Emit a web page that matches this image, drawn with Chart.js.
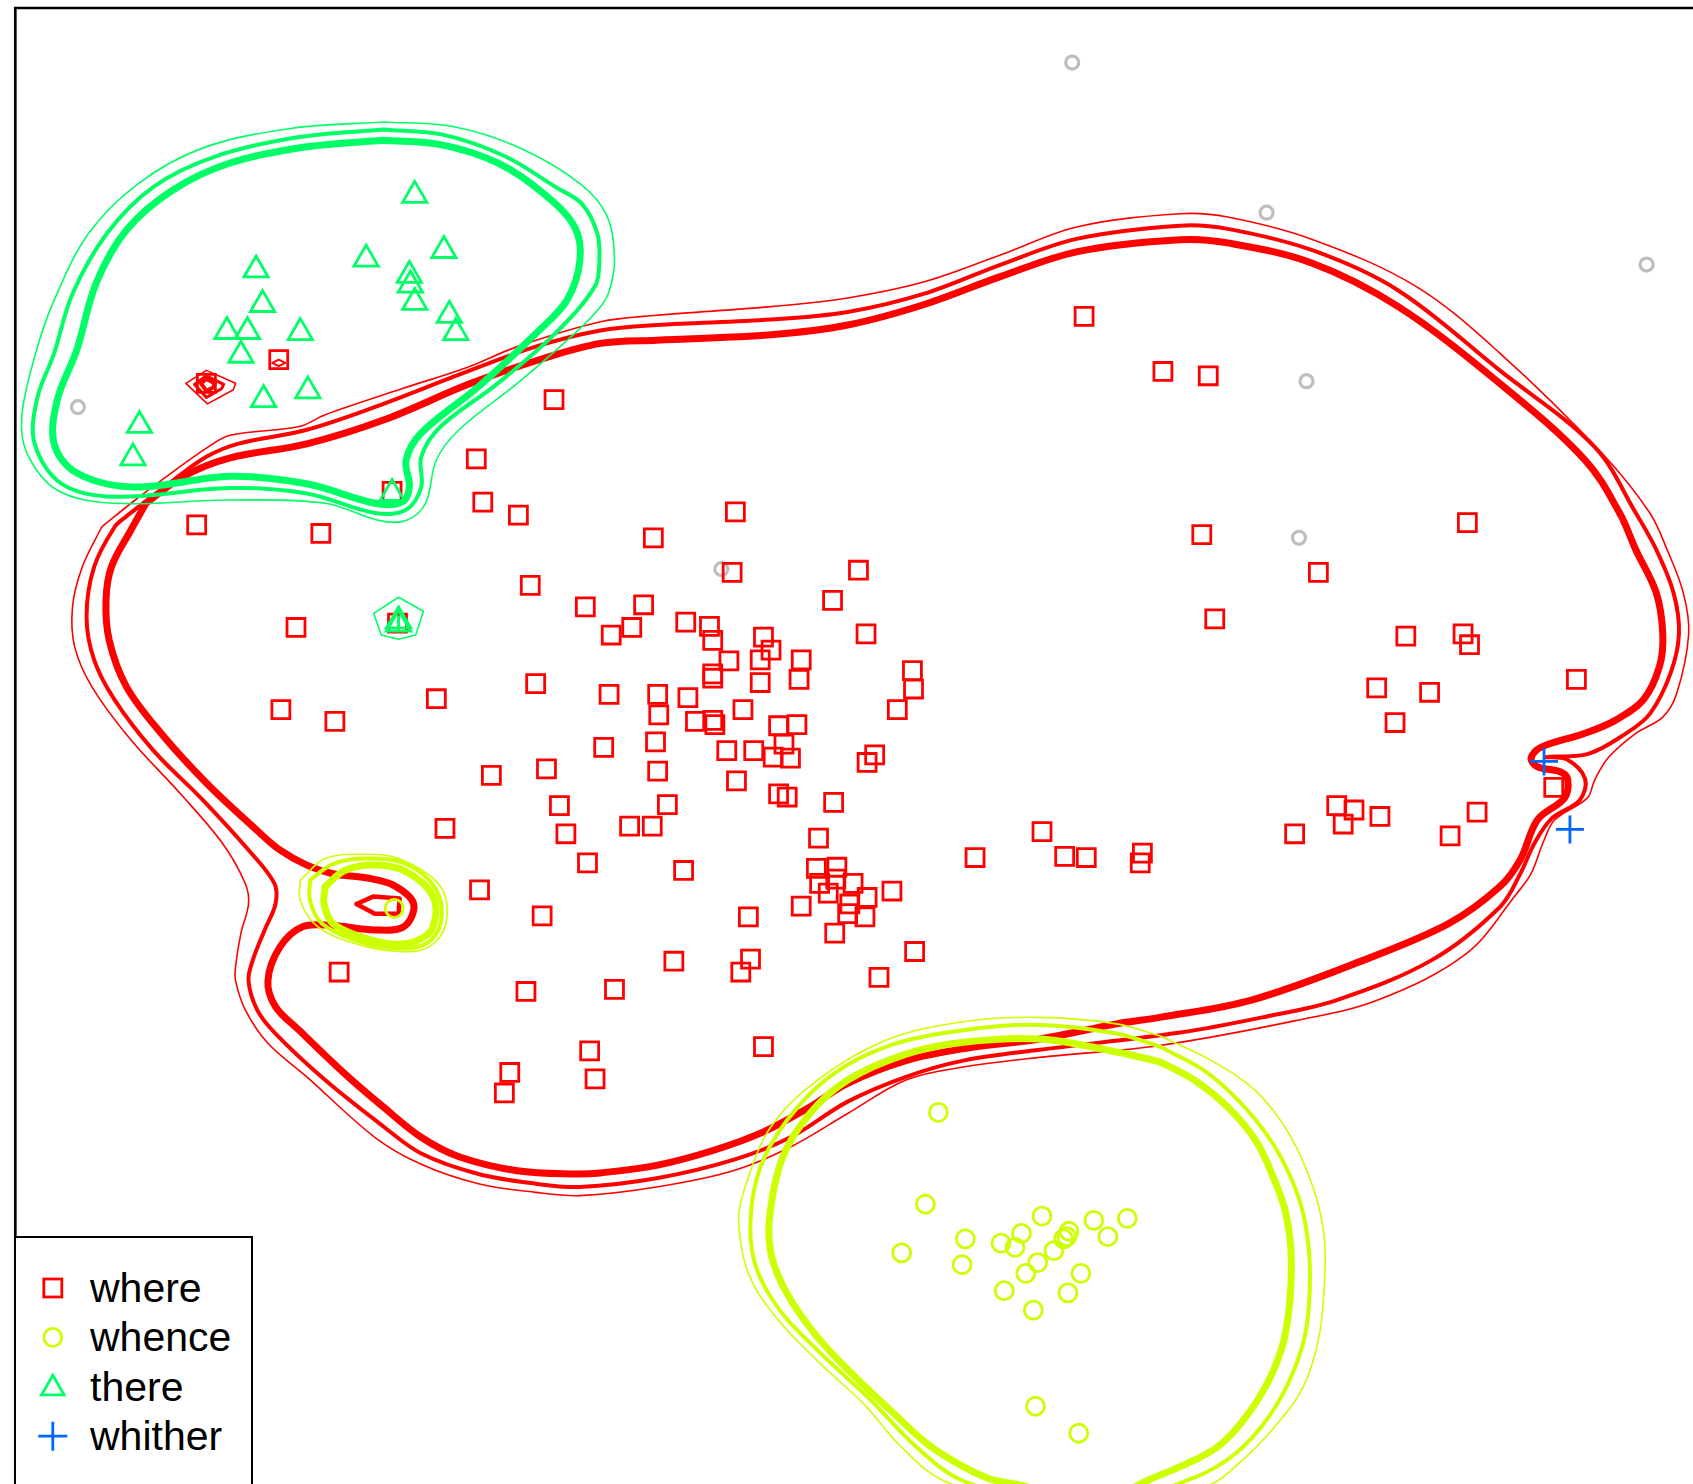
<!DOCTYPE html>
<html>
<head>
<meta charset="utf-8">
<script src="https://cdn.jsdelivr.net/npm/chart.js@4.4.1/dist/chart.umd.min.js"></script>
<style>
  html, body { margin: 0; padding: 0; background: #fff; overflow: hidden; }
  #wrap { position: relative; width: 1693px; height: 1484px; }
  #c { position: absolute; left: 0; top: 0; }
  #legend { position: absolute; left: 14px; top: 1236px; width: 239px; height: 300px;
            box-sizing: border-box; border: 2.7px solid #000; background: #fff; }
  #keys { position: absolute; left: 0; top: 0; }
  .lab { position: absolute; left: 90px; font-family: "Liberation Sans", Arial, sans-serif;
         font-size: 41px; line-height: 41px; color: #000; white-space: nowrap; }
</style>
</head>
<body>
<div id="wrap">
  <canvas id="c" width="1693" height="1484"></canvas>
  <div id="legend"></div>
  <svg id="keys" width="260" height="1484" xmlns="http://www.w3.org/2000/svg"></svg>
</div>
<script>
// ---- observations (x, y) per group ----
const where = [[990,1081],[1063,1030],[1105,1026],[499,1004],[427,949],[433,909],[466,897],[168,888],[283,880],[591,876],[667,900],[664,844],[781,846],[757,818],[477,832],[528,812],[582,814],[552,786],[571,793],[621,798],[643,794],[646,781],[693,784],[700,772],[690,763],[661,762],[728,763],[788,787],[260,793],[354,797],[831,753],[832,736],[817,717],[646,750],[646,746],[690,742],[726,745],[246,717],[296,706],[390,727],[482,741],[550,731],[595,731],[596,712],[623,728],[630,706],[646,707],[648,703],[674,717],[707,702],[724,703],[712,685],[702,673],[718,672],[684,679],[659,679],[545,682],[593,687],[595,660],[441,656],[492,662],[668,651],[796,675],[789,668],[707,639],[715,636],[758,631],[604,629],[504,628],[398,607],[510,602],[569,609],[590,609],[744,598],[530,575],[619,568],[742,570],[761,571],[760,560],[745,556],[753,547],[776,556],[789,543],[773,537],[771,528],[787,525],[812,549],[728,535],[759,510],[430,550],[488,526],[679,525],[300,474],[610,484],[681,486],[672,474],[833,493],[800,469],[473,456],[555,458],[532,401],[693,405],[458,381],[537,375],[453,362],[889,580],[951,604],[972,581],[992,580],[1044,584],[1042,575],[1099,879],[1207,844],[1345,890],[1111,801],[1288,785],[1341,787],[1347,777],[1261,737],[1310,733],[1278,705],[1446,745],[1425,645],[1224,628],[1240,624],[1230,611],[1264,618],[1185,602],[1329,600],[1354,622],[177,1019],[244,1041],[349,919]];
const whence = [[855,344],[843,259],[821,214],[880,227],[877,203],[913,223],[926,219],[932,232],[951,248],[947,205],[936,195],[962,216],[971,227],[974,229],[976,234],[999,244],[1012,229],[1030,246],[987,195],[975,177],[916,179],[943,161],[945,72],[985,47],[351,533]];
const there = [[370,1193],[223,1124],[325,1134],[397,1142],[365,1119],[366,1110],[370,1094],[229,1092],[196,1067],[215,1067],[264,1066],[209,1045],[402,1082],[408,1066],[230,1004],[271,1012],[115,980],[109,950],[349,917],[355,796],[355,799]];
const whither = [[1416,669],[1440,606]];
const unassigned = [[979,1316],[1159,1177],[1511,1129],[1196,1021],[1189,876],[58,997],[654,847]];

// ---- density contours per group (outer / middle / inner level) ----
const whereOuter = [[80,886],[111,911],[135,929],[177,959],[199,971],[263,979],[287,990],[358,1014],[419,1034],[465,1053],[542,1076],[594,1082],[700,1090],[771,1098],[842,1113],[913,1138],[984,1164],[1079,1176],[1123,1173],[1202,1152],[1297,1109],[1375,1047],[1470,954],[1514,899],[1530,865],[1545,825],[1550,787],[1539,732],[1526,710],[1501,695],[1476,673],[1463,652],[1456,635],[1426,615],[1416,596],[1404,565],[1391,547],[1344,491],[1262,448],[1186,429],[1060,406],[949,395],[878,386],[825,374],[771,343],[718,312],[665,290],[594,275],[523,267],[482,270],[429,278],[376,296],[333,321],[270,377],[234,408],[213,439],[204,466],[204,479],[209,510],[216,537],[213,556],[192,593],[153,639],[107,689],[71,738],[55,775],[53,812],[62,849],[80,886]];
const whereMiddle = [[103,896],[146,929],[177,951],[206,963],[270,976],[341,1000],[411,1027],[482,1053],[542,1068],[594,1073],[700,1078],[771,1085],[842,1102],[913,1129],[984,1153],[1079,1165],[1123,1162],[1202,1142],[1281,1105],[1375,1031],[1463,960],[1501,899],[1520,865],[1536,825],[1541,787],[1533,750],[1514,713],[1492,695],[1457,676],[1418,673],[1437,671],[1454,653],[1449,633],[1423,616],[1407,593],[1394,565],[1375,534],[1312,485],[1224,448],[1155,432],[1079,418],[949,402],[878,392],[825,377],[771,354],[718,321],[665,300],[594,283],[523,275],[482,278],[429,287],[376,306],[341,331],[287,374],[241,417],[224,439],[216,466],[220,485],[231,513],[241,537],[240,556],[216,587],[174,633],[128,679],[92,726],[73,763],[66,803],[73,849],[92,886],[103,896]];
const whereInner = [[121,908],[156,933],[199,950],[270,963],[341,985],[422,1019],[489,1042],[542,1056],[594,1059],[700,1064],[771,1073],[842,1092],[913,1118],[984,1141],[1079,1152],[1123,1149],[1202,1130],[1281,1090],[1375,1019],[1454,948],[1486,899],[1501,865],[1520,825],[1526,787],[1523,757],[1508,726],[1482,707],[1454,695],[1413,682],[1404,672],[1410,664],[1432,659],[1438,652],[1435,635],[1410,615],[1394,578],[1375,553],[1328,519],[1249,485],[1145,448],[1060,432],[1020,426],[949,412],[878,403],[825,392],[771,371],[736,349],[693,326],[647,309],[594,295],[542,288],[518,287],[465,290],[411,303],[376,321],[341,349],[305,380],[263,420],[241,442],[234,466],[245,497],[266,516],[294,517],[333,513],[360,516],[369,537],[351,554],[326,561],[294,565],[270,573],[245,587],[224,605],[177,649],[135,695],[103,738],[87,781],[84,818],[89,849],[107,883],[121,908]];
const whereSpur = [[316,537],[332,544],[356,542],[355,528],[333,528],[316,537]];
const wherePeakOuter = [[158,1019],[177,1031],[204,1019],[202,1013],[178,1000],[158,1019]];
const wherePeakMiddle = [[166,1018],[177,1026],[193,1018],[191,1014],[177,1006],[166,1018]];
const wherePeakInner = [[172,1019],[177,1023],[185,1019],[183,1015],[177,1012],[172,1019]];
const wherePeakSmall = [[238,1038],[244,1041],[250,1038],[244,1035],[238,1038]];

const whenceOuter = [[1060,415],[1020,426],[949,432],[878,428],[807,411],[743,374],[700,331],[676,275],[670,244],[679,195],[704,155],[743,114],[786,74],[821,34],[860,3],[986,-36],[1108,0],[1130,16],[1164,50],[1193,90],[1208,139],[1213,195],[1212,232],[1202,275],[1180,324],[1149,364],[1108,392],[1060,415]];
const whenceMiddle = [[1060,405],[1020,417],[949,425],[878,420],[807,405],[754,377],[715,337],[690,293],[681,244],[686,201],[708,161],[743,124],[793,77],[835,34],[878,3],[986,-26],[1092,6],[1130,28],[1161,62],[1183,102],[1196,145],[1199,204],[1193,250],[1180,287],[1161,321],[1133,355],[1101,383],[1060,405]];
const whenceInner = [[1060,391],[1020,400],[949,412],[878,409],[825,398],[771,374],[736,343],[711,303],[699,250],[700,213],[715,176],[743,136],[778,99],[814,65],[849,34],[899,6],[931,-1],[996,-16],[1060,8],[1092,22],[1117,37],[1142,65],[1164,102],[1177,142],[1182,204],[1177,250],[1164,287],[1149,318],[1123,349],[1092,374],[1060,391]];
const whenceIsleOuter = [[264,559],[287,579],[321,583],[355,579],[394,553],[399,519],[383,497],[355,493],[316,500],[280,516],[264,540],[264,559]];
const whenceIsleMiddle = [[273,559],[294,574],[326,579],[362,574],[390,550],[394,519],[380,500],[351,496],[316,503],[284,519],[273,540],[273,559]];
const whenceIsleInner = [[287,553],[305,568],[333,573],[362,567],[387,544],[387,516],[372,503],[348,500],[319,507],[294,519],[286,537],[287,553]];

const thereOuter = [[341,1261],[255,1255],[174,1237],[114,1204],[68,1158],[36,1096],[18,1044],[6,988],[11,954],[39,920],[92,908],[199,911],[287,908],[337,892],[362,892],[380,908],[390,948],[411,976],[465,1019],[518,1065],[542,1090],[550,1104],[555,1133],[548,1174],[523,1204],[465,1238],[404,1257],[341,1261]];
const thereMiddle = [[341,1254],[263,1247],[185,1229],[128,1201],[85,1158],[53,1102],[36,1047],[20,1004],[18,963],[43,926],[92,914],[199,922],[270,917],[333,899],[362,902],[376,923],[376,951],[394,979],[447,1019],[500,1065],[537,1109],[541,1133],[539,1158],[525,1185],[500,1201],[454,1229],[397,1249],[341,1254]];
const thereInner = [[341,1244],[270,1238],[199,1223],[146,1198],[103,1161],[75,1112],[57,1050],[39,1004],[36,963],[57,936],[110,923],[199,933],[270,926],[333,908],[358,909],[365,923],[362,948],[376,973],[429,1016],[482,1065],[511,1096],[523,1133],[518,1164],[489,1195],[447,1223],[394,1240],[341,1244]];
const thereIsle = [[332,806],[355,821],[378,808],[371,786],[355,782],[339,786],[332,806]];
const thereIsleCore = [[355,812],[355,791]];

// ---- group styling ----
const groups = [
  { name: 'where',   color: '#ff0000', style: 'rect',     radius: 12.7, data: where },
  { name: 'whence',  color: '#ccff00', style: 'circle',   radius: 9,    data: whence },
  { name: 'there',   color: '#00ff66', style: 'triangle', radius: 14,   data: there },
  { name: 'whither', color: '#0066ff', style: 'cross',    radius: 14,   data: whither }
];
const W_OUT = 1.6, W_MID = 4, W_IN = 7;

const toXY = a => a.map(p => ({ x: p[0], y: p[1] }));

function contour(line, color, width, order, tension) {
  return {
    data: toXY(line), showLine: true, borderColor: color, borderWidth: width,
    backgroundColor: 'rgba(0,0,0,0)', pointRadius: 0, fill: false,
    tension: tension === undefined ? 0.35 : tension,
    borderJoinStyle: 'round', borderCapStyle: 'round', order: order
  };
}
function markers(g, order) {
  return {
    label: g.name, data: toXY(g.data), showLine: false,
    pointStyle: g.style, pointRadius: g.radius, pointBorderWidth: 2.8,
    borderColor: g.color, pointBorderColor: g.color,
    backgroundColor: 'rgba(0,0,0,0)', pointBackgroundColor: 'rgba(0,0,0,0)',
    order: order
  };
}

const red = groups[0].color, yel = groups[1].color, grn = groups[2].color;
const datasets = [
  // contours: red drawn first, then yellow, then green
  contour(whereOuter, red, W_OUT, 30), contour(whereMiddle, red, W_MID, 30), contour(whereInner, red, W_IN, 30),
  contour(whereSpur, red, 4.5, 30, 0),
  contour(wherePeakOuter, red, 1.6, 30, 0), contour(wherePeakMiddle, red, 3, 30, 0),
  contour(wherePeakInner, red, 4, 30, 0), contour(wherePeakSmall, red, 2, 30, 0),
  contour(whenceOuter, yel, W_OUT, 20), contour(whenceMiddle, yel, W_MID, 20), contour(whenceInner, yel, W_IN, 20),
  contour(whenceIsleOuter, yel, W_OUT, 20), contour(whenceIsleMiddle, yel, W_MID, 20), contour(whenceIsleInner, yel, W_IN, 20),
  contour(thereOuter, grn, W_OUT, 10), contour(thereMiddle, grn, W_MID, 10), contour(thereInner, grn, W_IN, 10),
  contour(thereIsle, grn, 1.6, 10, 0), contour(thereIsleCore, grn, 3, 10, 0),
  // observations on top
  { label: 'unassigned', data: toXY(unassigned), showLine: false, pointStyle: 'circle',
    pointRadius: 6.5, pointBorderWidth: 3.2, borderColor: '#bebebe', pointBorderColor: '#bebebe',
    backgroundColor: 'rgba(0,0,0,0)', pointBackgroundColor: 'rgba(0,0,0,0)', order: 5 },
  markers(groups[0], 4), markers(groups[1], 3), markers(groups[2], 2), markers(groups[3], 1)
];

// left and top frame lines of the plotting region
const frame = {
  id: 'frame',
  afterDraw(chart) {
    const { ctx, chartArea: a } = chart;
    ctx.save();
    ctx.strokeStyle = '#000';
    ctx.lineWidth = 2.7;
    ctx.beginPath();
    ctx.moveTo(a.left, a.bottom + 10);
    ctx.lineTo(a.left, a.top);
    ctx.lineTo(a.right + 10, a.top);
    ctx.stroke();
    ctx.restore();
  }
};

new Chart(document.getElementById('c'), {
  type: 'scatter',
  data: { datasets },
  options: {
    responsive: false, animation: false, devicePixelRatio: 1, events: [],
    layout: { autoPadding: false, padding: { left: 15.3, top: 8, right: 0, bottom: 0 } },
    scales: {
      x: { type: 'linear', min: 0, max: 1554, display: false },
      y: { type: 'linear', min: 0, max: 1366.5, display: false }
    },
    plugins: { legend: { display: false }, tooltip: { enabled: false } }
  },
  plugins: [frame]
});

// legend keys and labels
const svgNS = 'http://www.w3.org/2000/svg';
const keys = document.getElementById('keys');
const wrap = document.getElementById('wrap');
function el(tag, attrs) {
  const e = document.createElementNS(svgNS, tag);
  for (const k in attrs) e.setAttribute(k, attrs[k]);
  keys.appendChild(e);
}
groups.forEach((g, i) => {
  const cy = 1288 + i * 49.4, cx = 52.8, sw = 2.8;
  const common = { fill: 'none', stroke: g.color, 'stroke-width': sw };
  if (g.style === 'rect') {
    el('rect', Object.assign({ x: cx - 9, y: cy - 9, width: 18, height: 18 }, common));
  } else if (g.style === 'circle') {
    el('circle', Object.assign({ cx: cx, cy: cy, r: 9 }, common));
  } else if (g.style === 'triangle') {
    const c = cy + 1.5, r = 13;
    el('polygon', Object.assign({ points: `${cx},${c - r} ${cx - r * 0.866},${c + r / 2} ${cx + r * 0.866},${c + r / 2}` }, common));
  } else {
    el('path', Object.assign({ d: `M${cx - 14.5} ${cy} H${cx + 14.5} M${cx} ${cy - 14.5} V${cy + 14.5}` }, common));
  }
  const t = document.createElement('div');
  t.className = 'lab';
  t.style.top = (cy - 20) + 'px';
  t.textContent = g.name;
  wrap.appendChild(t);
});
</script>
</body>
</html>
